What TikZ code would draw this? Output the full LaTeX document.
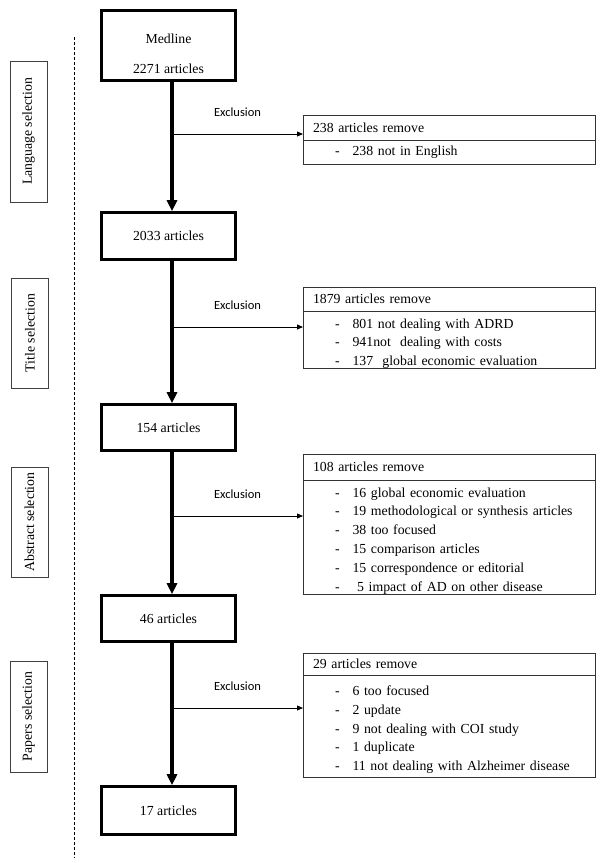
\documentclass[tikz,border=0pt]{standalone}
\usepackage{fontspec}
\setmainfont{Liberation Serif}
\newfontfamily\exclfont{Carlito}
\usetikzlibrary{arrows.meta, positioning}
\newcommand{\exitem}[1]{\hspace*{22pt}-\hspace*{13pt}#1}
\newcommand{\toplift}{\rule{0pt}{17pt}}
\tikzset{
    txt/.style = {font=\fontsize{13.8}{18.8}\selectfont},
    stage/.style = {rectangle, draw=black!75, line width=0.8pt, rotate=90,
                    minimum height=37pt, inner sep=0pt, txt},
    count/.style = {rectangle, draw, line width=2.6pt, minimum width=134pt,
                    align=center, txt},
    remhead/.style = {rectangle, draw=black!80, line width=0.8pt, text width=272pt,
                      inner xsep=10pt, inner ysep=0pt, outer sep=0pt,
                      anchor=north west, align=left, txt},
    remlist/.style = {remhead},
    flow/.style = {-{Triangle[length=11pt, width=10pt]}, line width=3.8pt},
    excl/.style = {-{Triangle[length=6pt, width=5pt]}, line width=0.8pt},
    exlabel/.style = {font=\exclfont\fontsize{12.5}{14}\selectfont, above=14pt, midway}
}
\begin{document}
\begin{tikzpicture}[x=1pt, y=-1pt]
    \useasboundingbox (0,0) rectangle (600,863);

    % stages
    \node[stage, minimum width=141pt] (lang) at (28.5,131.5) {Language selection};
    \node[stage, minimum width=110pt] (title) at (30,333) {Title selection};
    \node[stage, minimum width=110pt] (abs) at (29.5,522) {Abstract selection};
    \node[stage, minimum width=111pt] (pap) at (28.5,716.5) {Papers selection};
    \draw[dashed, dash pattern=on 3pt off 2pt, line width=0.8pt] (74.5,37) -- (74.5,858);

    % article counts
    \node[count, minimum height=70pt] (medline) at (168.5,45.5)
        {\rule{0pt}{26pt}Medline\\[12pt]2271 articles};
    \node[count, minimum height=47pt] (n2033) at (168.5,236) {2033 articles};
    \node[count, minimum height=46pt] (n154) at (168.5,427.5) {154 articles};
    \node[count, minimum height=46pt] (n46) at (168.5,618.5) {46 articles};
    \node[count, minimum height=48pt] (n17) at (168.5,810.5) {17 articles};

    \draw[flow] ([xshift=3.5pt]medline.south) -- ([xshift=3.5pt]n2033.north);
    \draw[flow] ([xshift=3.5pt]n2033.south) -- ([xshift=3.5pt]n154.north);
    \draw[flow] ([xshift=3.5pt]n154.south) -- ([xshift=3.5pt]n46.north);
    \draw[flow] ([xshift=3.5pt]n46.south) -- ([xshift=3.5pt]n17.north);

    % removed articles
    \node[remhead, minimum height=25pt] (rem1) at (303,115) {238 articles remove};
    \node[remlist, minimum height=24pt] (list1) at (rem1.south west)
        {\exitem{238 not in English}};

    \node[remhead, minimum height=24pt] (rem2) at (303,287) {1879 articles remove};
    \node[remlist, minimum height=57pt] (list2) at (rem2.south west)
        {\toplift\exitem{801 not dealing with ADRD}\\
         \exitem{941not\ \ dealing with costs}\\
         \exitem{137\ \ global economic evaluation}};

    \node[remhead, minimum height=26pt] (rem3) at (303,454) {108 articles remove};
    \node[remlist, minimum height=113pt] (list3) at (rem3.south west)
        {\toplift\exitem{16 global economic evaluation}\\
         \exitem{19 methodological or synthesis articles}\\
         \exitem{38 too focused}\\
         \exitem{15 comparison articles}\\
         \exitem{15 correspondence or editorial}\\
         \exitem{\ 5 impact of AD on other disease}};

    \node[remhead, minimum height=22pt] (rem4) at (303,653) {29 articles remove};
    \node[remlist, minimum height=102pt] (list4) at (rem4.south west)
        {\toplift\exitem{6 too focused}\\
         \exitem{2 update}\\
         \exitem{9 not dealing with COI study}\\
         \exitem{1 duplicate}\\
         \exitem{11 not dealing with Alzheimer disease}};

    % exclusions
    \coordinate (x1) at (172,134);
    \coordinate (x2) at (172,327);
    \coordinate (x3) at (172,516);
    \coordinate (x4) at (172,708);
    \draw[excl] (x1) -- (x1 -| rem1.west) node[exlabel] {Exclusion};
    \draw[excl] (x2) -- (x2 -| rem2.west) node[exlabel] {Exclusion};
    \draw[excl] (x3) -- (x3 -| rem3.west) node[exlabel] {Exclusion};
    \draw[excl] (x4) -- (x4 -| rem4.west) node[exlabel] {Exclusion};
\end{tikzpicture}
\end{document}
